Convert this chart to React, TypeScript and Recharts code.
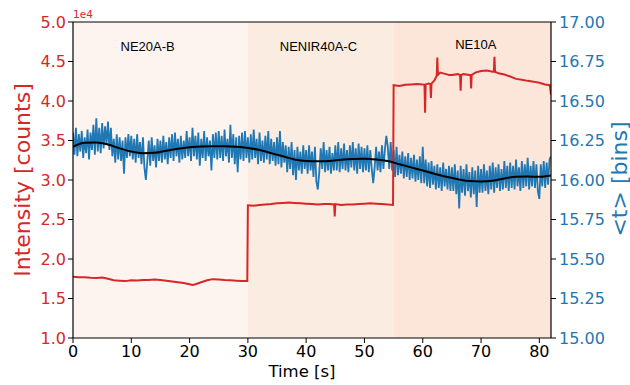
import {
  LineChart,
  Line,
  XAxis,
  YAxis,
  ReferenceArea,
  ReferenceLine,
  ReferenceDot,
} from 'recharts';

// filter segments
const filterNames = ['NE20A-B', 'NENIR40A-C', 'NE10A'];
const filterStarts = [0, 30, 55];
const filterEnds = [30, 55, 82];

const timeTicks = [0, 10, 20, 30, 40, 50, 60, 70, 80];
const intensityTicks = [10000, 15000, 20000, 25000, 30000, 35000, 40000, 45000, 50000];
const binTicks = [15, 15.25, 15.5, 15.75, 16, 16.25, 16.5, 16.75, 17];

// intensity [counts] vs time [s]
const intensityPoints: [number, number][] = [
  [0, 17750], [1, 17700], [2, 17680], [3, 17620], [4, 17600], [5, 17650], [6, 17500],
  [7, 17300], [8, 17250], [9, 17200], [10, 17300], [11, 17280], [12, 17330], [13, 17350],
  [14, 17400], [15, 17350], [16, 17250], [17, 17150], [18, 17050], [19, 16950], [20, 16800],
  [20.5, 16700], [21, 16800], [22, 17050], [23, 17300], [24, 17450], [25, 17420], [26, 17350],
  [27, 17300], [28, 17250], [29, 17200], [29.9, 17200],
  [30, 26800], [31, 26750], [32, 26850], [33, 26900], [34, 26950], [35, 27050], [36, 27100],
  [37, 27150], [38, 27100], [39, 27050], [40, 27000], [41, 26950], [42, 26900], [43, 26950],
  [44, 26950], [44.8, 26900], [44.9, 25400], [45, 26950], [46, 26850], [47, 26900], [48, 26900],
  [49, 26950], [50, 27000], [51, 27050], [52, 27000], [53, 26950], [54, 26900], [54.9, 26850],
  [55, 42000], [56, 41900], [57, 42050], [58, 42100], [59, 42150], [60, 42100], [60.3, 42050],
  [60.4, 38500], [60.5, 42100], [61, 42200], [61.3, 42150], [61.4, 40400], [61.5, 42200],
  [62, 42600], [62.4, 43200], [62.5, 45500], [62.6, 43300], [63, 43600], [64, 43400],
  [64.5, 43300], [65, 43300], [66, 43400], [66.4, 43300], [66.5, 41300], [66.6, 43300],
  [67, 43400], [68, 43300], [68.2, 43300], [68.3, 41600], [68.4, 43300], [69, 43600],
  [70, 43800], [71, 43850], [72, 43700], [72.2, 43700], [72.3, 45600], [72.4, 43700],
  [73, 43500], [74, 43350], [75, 43100], [76, 42800], [77, 42700], [78, 42550], [79, 42450],
  [80, 42300], [81, 42100], [81.8, 42000], [82, 40800],
];

// mean arrival time <t> [bins], sampled every 0.25 s
const binStep = 0.25;
const meanBins = [
  16.30, 16.16, 16.33, 16.15, 16.29, 16.18, 16.31, 16.14, 16.27, 16.17, 16.32, 16.13, 16.30, 16.19, 16.35, 16.16, 16.39, 16.18, 16.33, 16.17,
  16.36, 16.20, 16.34, 16.22, 16.37, 16.19, 16.33, 16.15, 16.26, 16.11, 16.29, 16.13, 16.27, 16.12, 16.25, 16.04, 16.27, 16.14, 16.29, 16.15,
  16.28, 16.13, 16.26, 16.11, 16.29, 16.14, 16.24, 16.10, 16.27, 16.08, 16.00, 16.12, 16.25, 16.09, 16.27, 16.12, 16.22, 16.08, 16.26, 16.12,
  16.25, 16.11, 16.28, 16.13, 16.24, 16.10, 16.27, 16.14, 16.29, 16.12, 16.30, 16.15, 16.26, 16.11, 16.28, 16.13, 16.25, 16.14, 16.31, 16.15,
  16.27, 16.12, 16.33, 16.15, 16.28, 16.13, 16.30, 16.09, 16.26, 16.14, 16.31, 16.12, 16.27, 16.15, 16.25, 16.06, 16.29, 16.14, 16.30, 16.13,
  16.31, 16.14, 16.28, 16.12, 16.32, 16.15, 16.26, 16.11, 16.35, 16.14, 16.29, 16.10, 16.27, 16.05, 16.28, 16.13, 16.30, 16.12, 16.31, 16.14,
  16.27, 16.11, 16.29, 16.13, 16.32, 16.14, 16.26, 16.10, 16.30, 16.12, 16.25, 16.11, 16.28, 16.13, 16.31, 16.10, 16.26, 16.12, 16.24, 16.09,
  16.27, 16.10, 16.31, 16.08, 16.24, 16.11, 16.22, 16.05, 16.21, 16.07, 16.24, 16.03, 16.19, 16.00, 16.21, 16.06, 16.18, 16.04, 16.22, 16.07,
  16.19, 16.04, 16.22, 16.06, 16.18, 16.02, 16.21, 15.99, 15.94, 16.05, 16.20, 16.07, 16.24, 16.05, 16.19, 16.06, 16.21, 16.04, 16.17, 16.06,
  16.22, 16.06, 16.24, 16.05, 16.20, 16.07, 16.23, 16.06, 16.19, 16.05, 16.22, 16.08, 16.24, 16.06, 16.20, 16.04, 16.23, 16.07, 16.21, 16.05,
  16.20, 16.06, 16.22, 16.05, 16.19, 16.07, 15.98, 16.08, 16.21, 16.06, 16.18, 16.05, 16.22, 16.07, 16.19, 16.28, 16.21, 16.07, 16.24, 16.06,
  16.19, 16.02, 16.21, 16.03, 16.16, 16.04, 16.18, 16.01, 16.15, 16.02, 16.17, 16.00, 16.14, 16.01, 16.16, 15.99, 16.13, 16.00, 16.15, 15.98,
  16.21, 15.98, 16.13, 15.96, 16.11, 15.95, 16.12, 15.97, 16.09, 15.94, 16.10, 15.95, 16.08, 15.93, 16.11, 15.96, 16.07, 15.94, 16.09, 15.93,
  16.08, 15.93, 16.10, 15.91, 16.06, 15.82, 16.09, 15.92, 16.07, 15.90, 16.10, 15.93, 16.05, 15.89, 16.08, 15.91, 16.06, 15.83, 16.09, 15.92,
  16.07, 15.92, 16.10, 15.93, 16.06, 15.91, 16.09, 15.94, 16.11, 15.92, 16.08, 15.95, 16.10, 15.93, 16.07, 15.94, 16.12, 15.95, 16.09, 15.93,
  16.11, 15.95, 16.09, 15.94, 16.13, 15.96, 16.08, 15.93, 16.12, 15.95, 16.10, 15.96, 16.14, 15.94, 16.09, 15.96, 16.12, 15.95, 16.10, 15.93,
  15.88, 16.10, 15.96, 16.12, 15.95, 16.11, 15.97, 16.13, 16.15,
];

// smoothed trend of <t>
const smoothTimes = [0, 2, 4, 6, 8, 10, 12, 14, 16, 18, 20, 22, 24, 26, 28, 30, 32, 34, 36, 38, 40,
  42, 44, 46, 48, 50, 52, 54, 56, 58, 60, 62, 64, 66, 68, 70, 72, 74, 76, 78, 80, 82];
const smoothBins = [16.21, 16.235, 16.238, 16.225, 16.2, 16.18, 16.17, 16.172, 16.185, 16.198,
  16.207, 16.212, 16.213, 16.213, 16.21, 16.203, 16.19, 16.17, 16.15, 16.13, 16.12, 16.118,
  16.12, 16.128, 16.133, 16.135, 16.13, 16.12, 16.1, 16.08, 16.06, 16.04, 16.02, 16.005,
  15.993, 15.99, 15.995, 16.01, 16.02, 16.022, 16.02, 16.028];

const RED = '#d62728';
const BLUE = '#1f77b4';
const FONT = 'DejaVu Sans';
const spanColors = ['#fdf4f0', '#fbece1', '#fce5d9'];
const labelTimes = [12.8, 42.1, 69.1];
const labelCounts = [46900, 46900, 47200];

const intensityData = intensityPoints.map(([t, v]) => ({ t, v }));
const binData = meanBins.map((v, i) => ({ t: i * binStep, v }));
const smoothData = smoothTimes.map((t, i) => ({ t, v: smoothBins[i] }));

export default function App() {
  return (
    <div style={{ position: 'absolute', left: 0, top: 0, width: 630, height: 385, background: '#fff' }}>
      <LineChart width={630} height={385} margin={{ top: 22, right: 0, bottom: 0, left: 0 }}>
        <XAxis
          type="number"
          dataKey="t"
          domain={[0, 82]}
          ticks={timeTicks}
          allowDataOverflow
          height={47}
          tickSize={5}
          tickMargin={3}
          axisLine={{ stroke: '#000', strokeWidth: 1.2 }}
          tickLine={{ stroke: '#000' }}
          tick={{ fill: '#000', fontSize: 16, fontFamily: FONT }}
        />
        <YAxis
          yAxisId="left"
          type="number"
          domain={[10000, 50000]}
          ticks={intensityTicks}
          allowDataOverflow
          width={73}
          tickSize={5}
          tickMargin={2}
          tickFormatter={(v) => (v / 1e4).toFixed(1)}
          axisLine={{ stroke: '#000', strokeWidth: 1.2 }}
          tickLine={{ stroke: '#000' }}
          tick={{ fill: RED, fontSize: 16, fontFamily: FONT }}
        />
        <YAxis
          yAxisId="right"
          orientation="right"
          type="number"
          domain={[15, 17]}
          ticks={binTicks}
          allowDataOverflow
          width={79}
          tickSize={5}
          tickMargin={3}
          tickFormatter={(v) => v.toFixed(2)}
          axisLine={{ stroke: '#000', strokeWidth: 1.2 }}
          tickLine={{ stroke: '#000' }}
          tick={{ fill: BLUE, fontSize: 16, fontFamily: FONT }}
        />
        {filterNames.map((name, i) => (
          <ReferenceArea
            key={name}
            yAxisId="left"
            x1={filterStarts[i]}
            x2={filterEnds[i]}
            y1={10000}
            y2={50000}
            fill={spanColors[i]}
            fillOpacity={1}
            stroke="none"
          />
        ))}
        <ReferenceLine yAxisId="left" y={50000} stroke="#000" strokeWidth={1.2} />
        <Line
          yAxisId="right"
          data={binData}
          dataKey="v"
          stroke={BLUE}
          strokeWidth={1.8}
          dot={false}
          isAnimationActive={false}
          type="linear"
        />
        <Line
          yAxisId="left"
          data={intensityData}
          dataKey="v"
          stroke={RED}
          strokeWidth={2}
          dot={false}
          isAnimationActive={false}
          type="linear"
        />
        <Line
          yAxisId="right"
          data={smoothData}
          dataKey="v"
          stroke="#000"
          strokeWidth={2}
          dot={false}
          isAnimationActive={false}
          type="monotone"
        />
        {filterNames.map((name, i) => (
          <ReferenceDot
            key={'lbl' + name}
            yAxisId="left"
            x={labelTimes[i]}
            y={labelCounts[i]}
            r={0}
            fill="none"
            stroke="none"
            label={{ value: name, position: 'center', fill: '#000', fontSize: 13, fontFamily: 'Liberation Sans' }}
          />
        ))}
      </LineChart>
      <svg width={630} height={385} style={{ position: 'absolute', left: 0, top: 0, pointerEvents: 'none' }}>
        <text x={73} y={18} fontSize={10.5} fill={RED} fontFamily={FONT}>1e4</text>
        <text
          x={22}
          y={180}
          transform="rotate(-90 22 180)"
          textAnchor="middle"
          dominantBaseline="central"
          fontSize={22}
          fill={RED}
          fontFamily={FONT}
        >
          Intensity [counts]
        </text>
        <text
          x={619}
          y={179}
          transform="rotate(-90 619 179)"
          textAnchor="middle"
          dominantBaseline="central"
          fontSize={22}
          fill={BLUE}
          fontFamily={FONT}
        >
          {'<t> [bins]'}
        </text>
        <text x={302} y={376.5} textAnchor="middle" fontSize={16.5} fill="#000" fontFamily={FONT}>
          Time [s]
        </text>
      </svg>
    </div>
  );
}
